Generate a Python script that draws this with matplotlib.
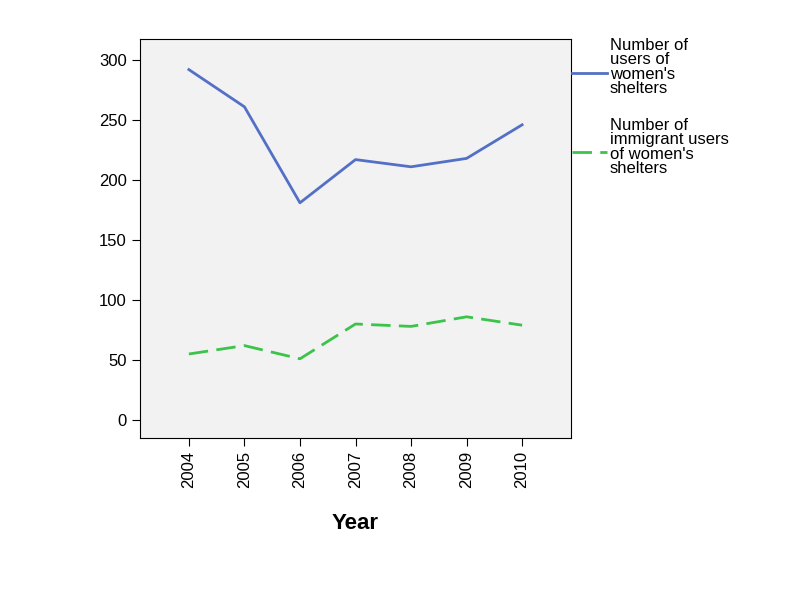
import matplotlib
matplotlib.use("Agg")
import matplotlib.pyplot as plt
from matplotlib.lines import Line2D

years = [2004, 2005, 2006, 2007, 2008, 2009, 2010]
users = [292, 261, 181, 217, 211, 218, 246]
immigrant_users = [55, 62, 51, 80, 78, 86, 79]
labels = ["Number of\nusers of\nwomen's\nshelters", "Number of\nimmigrant users\nof women's\nshelters"]

plt.rcParams['font.family'] = ['Liberation Sans', 'DejaVu Sans']
fig = plt.figure(figsize=(8.09, 5.99), dpi=100)
ax = fig.add_axes([140/809, 1-438/599, 431/809, 399/599])
ax.set_facecolor('#f2f2f2')
c1, c2 = '#5470c6', '#3cc34a'
ax.plot(years, users, color=c1, lw=2)
ax.plot(years, immigrant_users, color=c2, lw=2, dashes=(7, 3))
ax.set_xlim(2003.12, 2010.88)
ax.set_ylim(-15, 317.5)
ax.set_xticks(years)
ax.set_xticklabels([str(y) for y in years], rotation=90, fontsize=12)
ax.set_yticks([0, 50, 100, 150, 200, 250, 300])
ax.tick_params(axis='both', labelsize=12, direction='out', length=6)
ax.set_xlabel('Year', fontsize=16, fontweight='bold', labelpad=18)

# manual legend
for (lbl, col, dsh, ly, ty) in [(labels[0], c1, None, 73, 38), (labels[1], c2, (7, 3), 152, 118)]:
    kw = dict(color=col, lw=2, transform=fig.transFigure)
    if dsh:
        kw['dashes'] = dsh
    fig.add_artist(Line2D([572/809, 607/809], [1-ly/599, 1-ly/599], **kw))
    fig.text(610/809, 1-ty/599, lbl, fontsize=12, va='top', ha='left', linespacing=0.95)
fig.savefig('out.png', dpi=100)
